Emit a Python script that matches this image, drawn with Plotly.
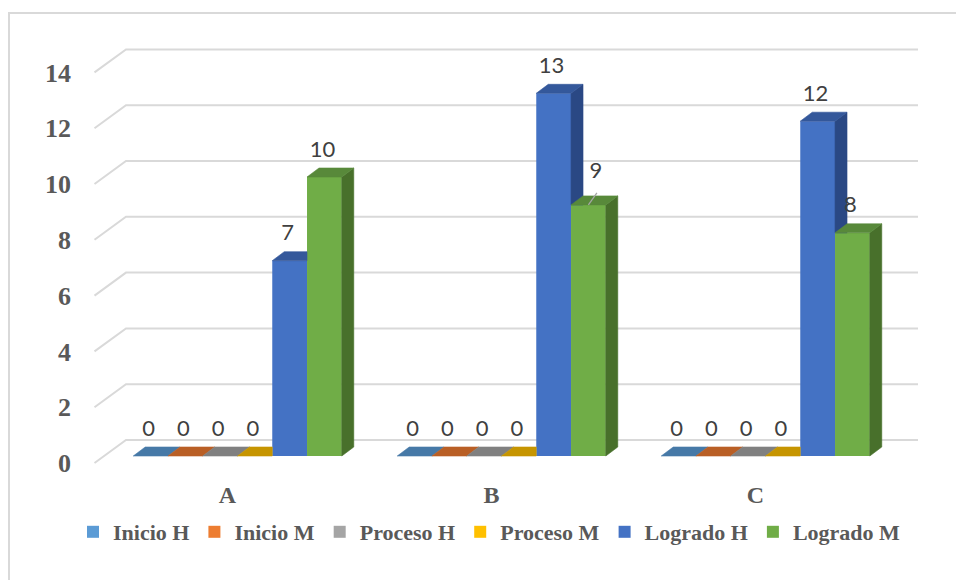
import plotly.graph_objects as go

# ---------------- data ----------------
categories = ["A", "B", "C"]
series_names = ["Inicio H", "Inicio M", "Proceso H", "Proceso M", "Logrado H", "Logrado M"]
inicio_h = [0, 0, 0]
inicio_m = [0, 0, 0]
proceso_h = [0, 0, 0]
proceso_m = [0, 0, 0]
logrado_h = [7, 13, 12]
logrado_m = [10, 9, 8]
y_tick_values = [0, 2, 4, 6, 8, 10, 12, 14]

series_values = [inicio_h, inicio_m, proceso_h, proceso_m, logrado_h, logrado_m]

# ---------------- styles ----------------
front_colors = ["#5B9BD5", "#ED7D31", "#A5A5A5", "#FFC000", "#4472C4", "#70AD47"]
top_colors = ["#4679A7", "#B95F25", "#808080", "#C69500", "#34589B", "#58893A"]
side_colors = ["#3C6890", "#9E4F1D", "#6E6E6E", "#A97F00", "#2A4884", "#48702B"]
axis_text = "#595959"
label_text = "#404040"
grid_color = "#D9D9D9"
SERIF = "Liberation Serif"
SANS = "Lato"

# ---------------- geometry (pixels -> data units) ----------------
W, H = 956, 580
ML, MR, MT, MB = 78, 20, 20, 100
PX_PER_CAT = 264.0
PX_PER_UNIT = 27.9
X0_PX = 237.5   # pixel of category 0 centre on bar front plane
Y0_PX = 456.0   # pixel of value 0 on bar front plane

plot_w = W - ML - MR
plot_h = H - MT - MB
x_lo = (ML - X0_PX) / PX_PER_CAT
x_hi = x_lo + plot_w / PX_PER_CAT
y_hi = (Y0_PX - MT) / PX_PER_UNIT
y_lo = y_hi - plot_h / PX_PER_UNIT


def pdx(p):
    return p / PX_PER_CAT


def pdy(p):
    return p / PX_PER_UNIT


BAR_DX, BAR_DY = pdx(12), pdy(9)          # depth of each column
FLOOR_DX, FLOOR_DY = pdx(-11), pdy(-7)    # front floor edge vs bar plane
WALL_DX, WALL_DY = pdx(20.5), pdy(16)     # back wall vs bar plane
GROUP_W = 0.79
n_series = len(series_names)
bar_w = GROUP_W / n_series
LABEL_RISE = pdy(26)
LABEL_SHIFT = pdx(-2)
label_nudges = {(1, 5): (9.5, 6)}  # (category, series): (px right, px up)

fig = go.Figure()

# ---- front faces as real bars ----
for j, (name, vals) in enumerate(zip(series_names, series_values)):
    fig.add_trace(go.Bar(
        x=list(range(len(categories))), y=vals, name=name,
        width=bar_w, offset=-GROUP_W / 2 + j * bar_w,
        marker=dict(color=front_colors[j], line=dict(width=0)),
        hoverinfo="skip",
    ))

# ---- top and side faces ----
for i in range(len(categories)):
    for j in range(n_series):
        v = series_values[j][i]
        vn = series_values[j + 1][i] if j + 1 < n_series else 0
        l = i - GROUP_W / 2 + j * bar_w
        r = l + bar_w
        dx, dy = BAR_DX, BAR_DY
        # side face (clipped by the next column's front face)
        if v > 0 and vn < v:
            if vn < dy:
                pts = [(r, vn), (r + dx * vn / dy, vn), (r + dx, dy), (r + dx, v + dy), (r, v)]
            else:
                pts = [(r, vn), (r + dx, vn), (r + dx, v + dy), (r, v)]
            fig.add_trace(go.Scatter(
                x=[p[0] for p in pts] + [pts[0][0]], y=[p[1] for p in pts] + [pts[0][1]],
                mode="lines", fill="toself", fillcolor=side_colors[j],
                line=dict(color=side_colors[j], width=0.6), hoverinfo="skip", showlegend=False))
        # top face
        if vn <= v:
            pts = [(l, v), (r, v), (r + dx, v + dy), (l + dx, v + dy)]
        elif vn >= v + dy:
            pts = [(l, v), (r, v), (r, v + dy), (l + dx, v + dy)]
        else:
            xc = r + dx * (vn - v) / dy
            pts = [(l, v), (r, v), (r, vn), (xc, vn), (r + dx, v + dy), (l + dx, v + dy)]
        fig.add_trace(go.Scatter(
            x=[p[0] for p in pts] + [pts[0][0]], y=[p[1] for p in pts] + [pts[0][1]],
            mode="lines", fill="toself", fillcolor=top_colors[j],
            line=dict(color=top_colors[j], width=0.6), hoverinfo="skip", showlegend=False))

# ---- data labels ----
for j, vals in enumerate(series_values):
    lx, ly, lt = [], [], []
    for i, v in enumerate(vals):
        cx = i - GROUP_W / 2 + (j + 0.5) * bar_w
        nx, ny = label_nudges.get((i, j), (0, 0))
        lx.append(cx + LABEL_SHIFT + pdx(nx))
        ly.append(v + LABEL_RISE + pdy(ny))
        lt.append(str(v))
        if (i, j) in label_nudges:
            fig.add_trace(go.Scatter(
                x=[cx, cx + pdx(nx) + LABEL_SHIFT + pdx(1)], y=[v, v + pdy(12)],
                mode="lines", line=dict(color="#A6A6A6", width=1.3),
                hoverinfo="skip", showlegend=False))
    fig.add_trace(go.Scatter(
        x=lx, y=ly, text=lt, mode="text",
        textfont=dict(family=SANS, size=22, color=label_text),
        hoverinfo="skip", showlegend=False))


def paper_x(px):
    return (px - ML) / plot_w


def paper_y(px):
    return (H - MB - px) / plot_h


# ---- gridlines (back wall + left side wall), drawn beneath the columns ----
shapes = []
for v in y_tick_values:
    x_front = -0.5 + FLOOR_DX
    x_back = -0.5 + WALL_DX
    x_right = len(categories) - 0.5 + WALL_DX
    shapes.append(dict(
        type="path", xref="x", yref="y", layer="below",
        path=f"M {x_front},{v + FLOOR_DY} L {x_back},{v + WALL_DY} L {x_right},{v + WALL_DY}",
        line=dict(color=grid_color, width=2)))

# chart border
shapes.append(dict(type="rect", xref="paper", yref="paper",
                   x0=paper_x(9), x1=paper_x(970), y0=paper_y(600), y1=paper_y(13),
                   line=dict(color=grid_color, width=2), fillcolor="rgba(0,0,0,0)",
                   layer="below"))

fig.update_layout(
    width=W, height=H,
    margin=dict(l=ML, r=MR, t=MT, b=MB, autoexpand=False),
    paper_bgcolor="white", plot_bgcolor="white",
    barmode="overlay",
    xaxis=dict(range=[x_lo, x_hi], tickvals=list(range(len(categories))), ticktext=categories,
               showgrid=False, zeroline=False, showline=False, ticks="",
               ticklabelshift=-10, ticklabelstandoff=-2,
               tickfont=dict(family=SERIF, size=24, color=axis_text, weight="bold")),
    yaxis=dict(range=[y_lo, y_hi], tickvals=y_tick_values,
               showgrid=False, zeroline=False, showline=False, ticks="",
               ticklabelshift=7, ticklabelstandoff=6,
               tickfont=dict(family=SERIF, size=26, color=axis_text, weight="bold")),
    legend=dict(orientation="h", x=paper_x(489.5), xanchor="center",
                y=paper_y(532), yanchor="middle", bgcolor="rgba(0,0,0,0)",
                font=dict(family=SERIF, size=22, color=axis_text, weight="bold"),
                traceorder="normal"),
    shapes=shapes,
)

fig.write_html("out.html", config={"displayModeBar": False},
               post_script="document.body.style.margin='0px';")
